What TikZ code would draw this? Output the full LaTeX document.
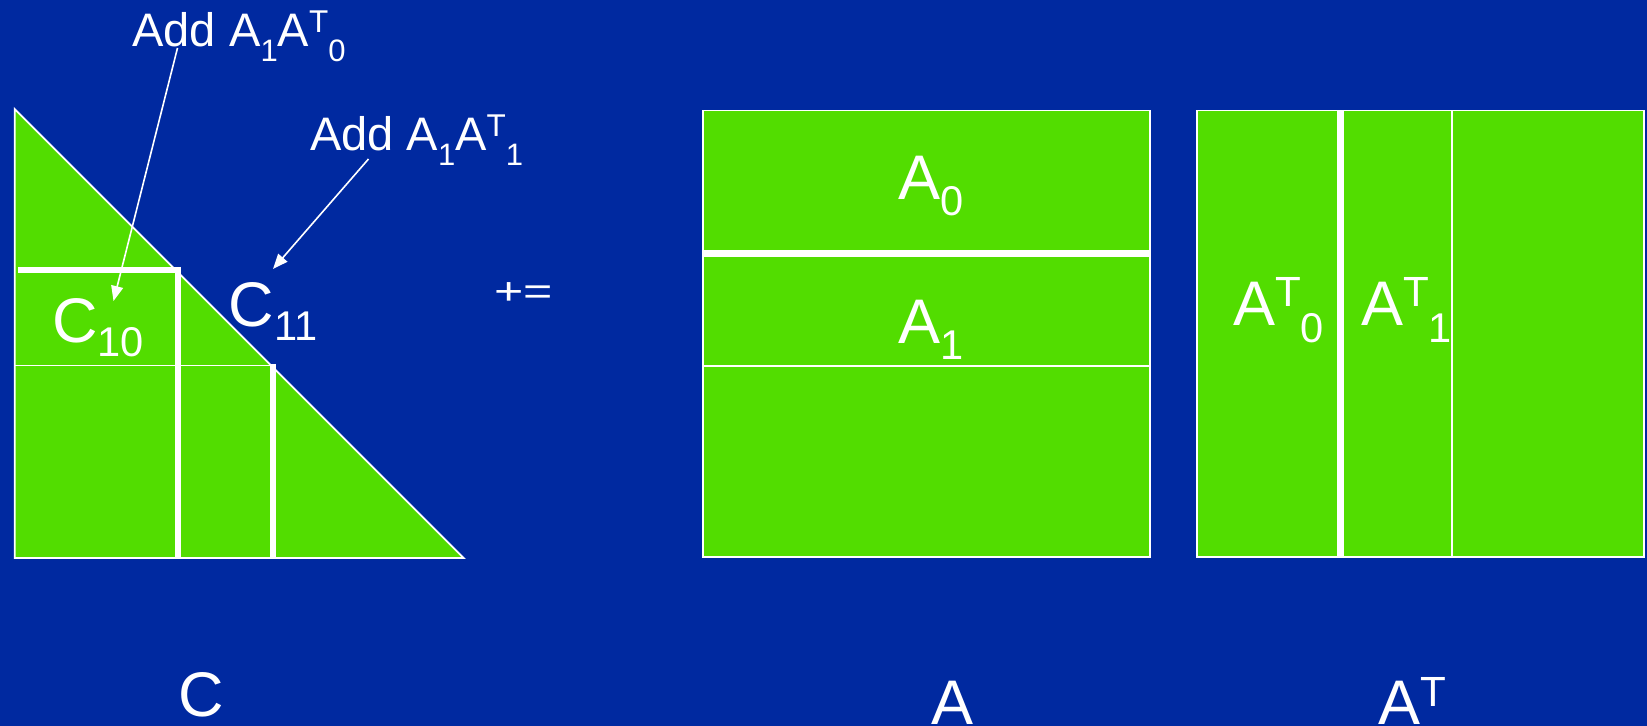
\documentclass[tikz,border=0pt]{standalone}
\usepackage{fontspec}
\setmainfont{Liberation Sans}
\usetikzlibrary{arrows.meta}
\definecolor{bg}{RGB}{0,41,160}
\definecolor{gr}{RGB}{82,221,0}
\newcommand\subx[2][0.25em]{\raisebox{-#1}{\scalebox{0.66}{#2}}}
\newcommand\supx[2][0.3em]{\raisebox{#1}{\scalebox{0.67}{#2}}}
\tikzset{
  lbl/.style={text=white, inner sep=0pt, outer sep=0pt, anchor=base west},
  small/.style={lbl, font=\fontsize{23.5pt}{26pt}\selectfont},
  big/.style={lbl, font=\fontsize{31.5pt}{36pt}\selectfont},
  thin/.style={draw=white, line width=0.9pt},
  thick/.style={draw=white, line width=3.5pt},
  arr/.style={draw=white, line width=0.8pt, -{Triangle[length=7.5pt,width=6pt]}}
}
\begin{document}
\begin{tikzpicture}[x=0.5pt,y=-0.5pt]
\fill[bg] (0,0) rectangle (1647,726);
\useasboundingbox (0,0) rectangle (1647,726);
% C triangle
\filldraw[fill=gr, thin, line join=miter] (14.7,109) -- (14.7,558) -- (463.7,558) -- cycle;
\draw[thin] (14.7,365.5) -- (271,365.5);
\draw[draw=white, line width=3pt] (18,270) -- (178,270);
\draw[draw=white, line width=3pt] (178,267) -- (178,557);
\draw[draw=white, line width=3pt] (273,364) -- (273,557);
% labels in C
\node[big] (c10) at (52,342.5) {C\subx[0.23em]{10}};
\node[big] (c11) at (228.5,326.5) {C\subx[0.23em]{11}};
\node[small] (add0) at (132.5,46.7) {Add A\subx[0.31em]{1}A\supx{T}\subx[0.31em]{0}};
\node[small] (add1) at (310,151) {Add A\subx[0.31em]{1}A\supx{T}\subx[0.31em]{1}};
\coordinate (a0s) at (177.5,48);
\coordinate (a0e) at (113.5,301);
\coordinate (a1s) at (368.5,159);
\coordinate (a1e) at (273,269);
\draw[arr] (a0s) -- (a0e);
\draw[arr] (a1s) -- (a1e);
% +=
\node[lbl, font=\fontsize{19pt}{22pt}\selectfont] (pe) at (494,304.5) {\scalebox{1.32}[1]{+=}};
% A matrix
\filldraw[fill=gr, thin] (703,110.5) rectangle (1150,557);
\draw[thick] (703,254) -- (1150,254);
\draw[thin] (703,366) -- (1150,366);
\node[big] (a0) at (898,199.3) {A\subx{0}};
\node[big] (a1) at (898,343.3) {A\subx{1}};
% AT matrix
\filldraw[fill=gr, thin] (1196.7,110.5) rectangle (1644,557);
\draw[thick] (1340.3,110.5) -- (1340.3,557);
\draw[thin] (1452,110.5) -- (1452,557);
\node[big] (at0) at (1233,325.5) {A\supx{T}\subx[0.27em]{0}};
\node[big] (at1) at (1361,325.5) {A\supx{T}\subx[0.27em]{1}};
% bottom labels
\node[big] (cc) at (178,716) {C};
\node[big] (aa) at (931,724) {A};
\node[big] (aat) at (1378,724) {A\supx[0.28em]{T}};
\end{tikzpicture}
\end{document}
